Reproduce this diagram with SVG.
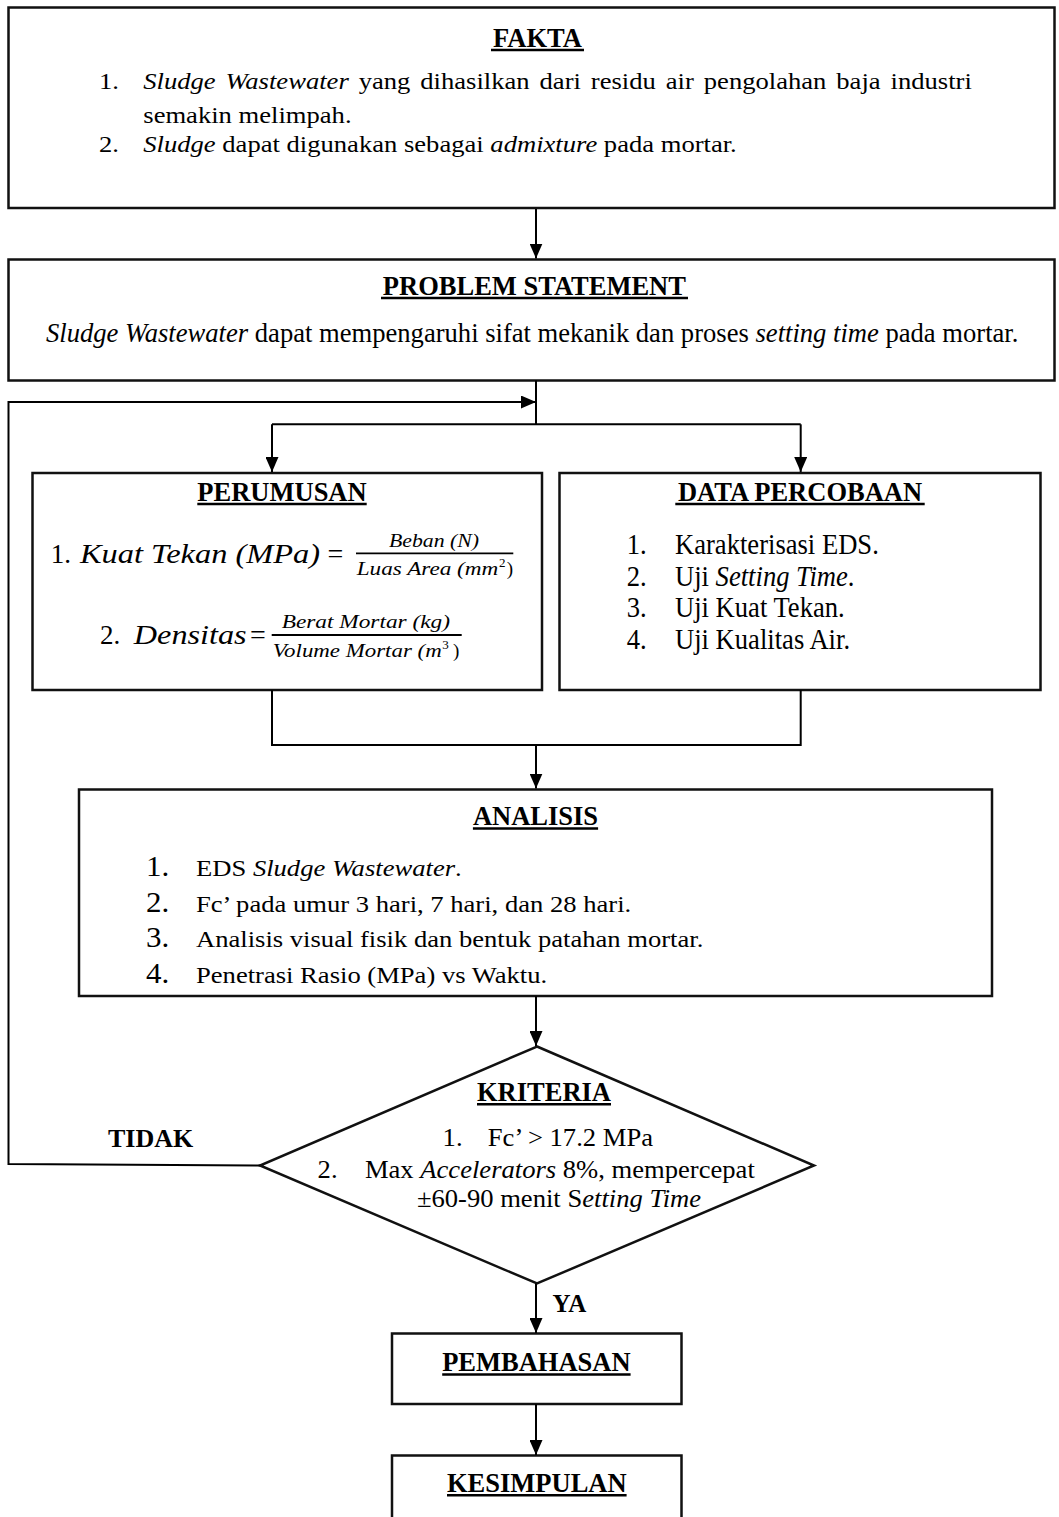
<svg xmlns="http://www.w3.org/2000/svg" width="1059" height="1517" viewBox="0 0 1059 1517">
<style>
.t{font-family:"Liberation Serif","Times New Roman",serif;fill:#000}
.h{font-weight:bold;font-size:26.5px;text-anchor:middle}
.r{font-size:26.6px}
.i{font-style:italic}
.m{font-style:italic;font-size:19px}
.box{fill:#fff;stroke:#111;stroke-width:2.5}
.ul{stroke:#000;stroke-width:2.5}
.bar{stroke:#000;stroke-width:1.8}
.c{fill:none;stroke:#000;stroke-width:2}
</style>
<defs>
<marker id="ah" markerUnits="userSpaceOnUse" markerWidth="16" markerHeight="13" refX="15" refY="6.5" orient="auto">
<path d="M0,0 L15,6.5 L0,13 z" fill="#000"/>
</marker>
</defs>
<rect width="1059" height="1517" fill="#fff"/>

<g id="fakta">
<rect class="box" x="8.5" y="7.5" width="1046" height="200.5"/>
<text class="t h" x="537.5" y="46.5">FAKTA</text>
<line class="ul" x1="491" y1="50" x2="584" y2="50"/>
<text class="t r" transform="matrix(1,0,0,0.9,0,89)" x="99" y="0">1.</text>
<text class="t r" transform="matrix(1,0,0,0.9,0,89)" x="143.3" y="0" word-spacing="3.3"><tspan class="i">Sludge Wastewater</tspan> yang dihasilkan dari residu air pengolahan baja industri</text>
<text class="t r" transform="matrix(1,0,0,0.9,0,122.5)" x="143.3" y="0">semakin melimpah.</text>
<text class="t r" transform="matrix(1,0,0,0.9,0,152)" x="99" y="0">2.</text>
<text class="t r" transform="matrix(1,0,0,0.9,0,152)" x="143.3" y="0"><tspan class="i">Sludge</tspan> dapat digunakan sebagai <tspan class="i">admixture</tspan> pada mortar.</text>
</g>

<g id="problem">
<rect class="box" x="8.5" y="259.5" width="1046" height="121"/>
<text class="t h" x="534.4" y="294.5">PROBLEM STATEMENT</text>
<line class="ul" x1="381" y1="298" x2="688" y2="298"/>
<text class="t r" transform="matrix(1,0,0,1.05,0,342)" x="46" y="0"><tspan class="i">Sludge Wastewater</tspan> dapat mempengaruhi sifat mekanik dan proses <tspan class="i">setting time</tspan> pada mortar.</text>
</g>

<g id="perumusan">
<rect class="box" x="32.5" y="473" width="509.5" height="217"/>
<text class="t h" x="282" y="500.5">PERUMUSAN</text>
<line class="ul" x1="197.3" y1="504" x2="366.7" y2="504"/>
<text class="t" font-size="27" x="50.7" y="562.5">1.</text>
<text class="t i" font-size="28" x="80" y="562.5" textLength="240" lengthAdjust="spacingAndGlyphs">Kuat Tekan (MPa)</text>
<text class="t" font-size="28" x="327.5" y="562.5">=</text>
<text class="t m" x="389" y="547.3" textLength="90" lengthAdjust="spacingAndGlyphs">Beban (N)</text>
<line class="bar" x1="356" y1="553.3" x2="513.3" y2="553.3"/>
<text class="t m" x="356.7" y="575" textLength="141.6" lengthAdjust="spacingAndGlyphs">Luas Area (mm</text>
<text class="t" font-size="13" x="499" y="566.5">2</text>
<text class="t" font-size="19" x="506.7" y="575">)</text>
<text class="t" font-size="27" x="100" y="644">2.</text>
<text class="t i" font-size="28" x="133.8" y="644" textLength="112.8" lengthAdjust="spacingAndGlyphs">Densitas</text>
<text class="t" font-size="28" x="250" y="644">=</text>
<text class="t m" x="281.7" y="628.3" textLength="168.3" lengthAdjust="spacingAndGlyphs">Berat Mortar (kg)</text>
<line class="bar" x1="271.7" y1="635" x2="461.7" y2="635"/>
<text class="t m" x="272.7" y="656.7" textLength="169" lengthAdjust="spacingAndGlyphs">Volume Mortar (m</text>
<text class="t" font-size="13" x="442.3" y="648.5">3</text>
<text class="t" font-size="19" x="453" y="656.7">)</text>
</g>

<g id="data">
<rect class="box" x="559.5" y="473" width="481" height="217"/>
<text class="t h" x="800" y="500.5">DATA PERCOBAAN</text>
<line class="ul" x1="675.3" y1="504" x2="924.7" y2="504"/>
<text class="t r" transform="matrix(1,0,0,1.08,0,554.3)" x="626.7" y="0">1.</text>
<text class="t r" transform="matrix(1,0,0,1.08,0,554.3)" x="675" y="0">Karakterisasi EDS.</text>
<text class="t r" transform="matrix(1,0,0,1.08,0,585.5)" x="626.7" y="0">2.</text>
<text class="t r" transform="matrix(1,0,0,1.08,0,585.5)" x="675" y="0">Uji <tspan class="i">Setting Time</tspan>.</text>
<text class="t r" transform="matrix(1,0,0,1.08,0,617)" x="626.7" y="0">3.</text>
<text class="t r" transform="matrix(1,0,0,1.08,0,617)" x="675" y="0">Uji Kuat Tekan.</text>
<text class="t r" transform="matrix(1,0,0,1.08,0,648.5)" x="626.7" y="0">4.</text>
<text class="t r" transform="matrix(1,0,0,1.08,0,648.5)" x="675" y="0">Uji Kualitas Air.</text>
</g>

<g id="analisis">
<rect class="box" x="79" y="789.5" width="913" height="206.5"/>
<text class="t h" x="535.5" y="825">ANALISIS</text>
<line class="ul" x1="472.9" y1="828.5" x2="598.1" y2="828.5"/>
<text class="t" font-size="31" transform="matrix(1,0,0,0.95,0,876)" x="146" y="0">1.</text>
<text class="t r" transform="matrix(1,0,0,0.9,0,876)" x="196" y="0">EDS <tspan class="i">Sludge Wastewater</tspan>.</text>
<text class="t" font-size="31" transform="matrix(1,0,0,0.95,0,911.7)" x="146" y="0">2.</text>
<text class="t r" transform="matrix(1,0,0,0.9,0,911.7)" x="196" y="0">Fc’ pada umur 3 hari, 7 hari, dan 28 hari.</text>
<text class="t" font-size="31" transform="matrix(1,0,0,0.95,0,947.3)" x="146" y="0">3.</text>
<text class="t r" transform="matrix(1,0,0,0.9,0,947.3)" x="196" y="0">Analisis visual fisik dan bentuk patahan mortar.</text>
<text class="t" font-size="31" transform="matrix(1,0,0,0.95,0,982.5)" x="146" y="0">4.</text>
<text class="t r" transform="matrix(1,0,0,0.9,0,982.5)" x="196" y="0">Penetrasi Rasio (MPa) vs Waktu.</text>
</g>

<g id="kriteria">
<polygon class="box" points="537,1046.5 814,1165.5 537,1283.5 260,1165.5"/>
<text class="t h" x="544" y="1100.7">KRITERIA</text>
<line class="ul" x1="477" y1="1104.3" x2="611" y2="1104.3"/>
<text class="t r" transform="matrix(1,0,0,0.95,0,1146)" x="442.6" y="0">1.</text>
<text class="t r" transform="matrix(1,0,0,0.95,0,1146)" x="487.8" y="0">Fc’ &gt; 17.2 MPa</text>
<text class="t r" transform="matrix(1,0,0,0.95,0,1178.3)" x="317.6" y="0">2.</text>
<text class="t r" transform="matrix(1,0,0,0.95,0,1178.3)" x="364.9" y="0">Max <tspan class="i">Accelerators</tspan> 8%, mempercepat</text>
<text class="t r" transform="matrix(1,0,0,0.95,0,1207.3)" x="416.9" y="0">±60-90 menit S<tspan class="i">etting Time</tspan></text>
</g>

<g id="label-tidak">
<text class="t" font-weight="bold" font-size="26" x="108" y="1146.7">TIDAK</text>
</g>
<g id="label-ya">
<text class="t" font-weight="bold" font-size="25" x="552.5" y="1312">YA</text>
</g>

<g id="pembahasan">
<rect class="box" x="392" y="1333.5" width="289.5" height="70.5"/>
<text class="t h" x="536.4" y="1371">PEMBAHASAN</text>
<line class="ul" x1="442.2" y1="1374.5" x2="630.6" y2="1374.5"/>
</g>

<g id="kesimpulan">
<rect class="box" x="392" y="1455.5" width="289.5" height="90"/>
<text class="t h" x="536.8" y="1491.7">KESIMPULAN</text>
<line class="ul" x1="447" y1="1495.3" x2="626.6" y2="1495.3"/>
</g>

<g id="connectors">
<line class="c" x1="536" y1="209" x2="536" y2="258.5" marker-end="url(#ah)"/>
<polyline class="c" points="536,380.5 536,424.3"/>
<polyline class="c" points="272,424.3 800.7,424.3"/>
<line class="c" x1="272" y1="424.3" x2="272" y2="472" marker-end="url(#ah)"/>
<line class="c" x1="800.7" y1="424.3" x2="800.7" y2="472" marker-end="url(#ah)"/>
<polyline class="c" points="260,1165.5 8.5,1164 8.5,402 536,402" marker-end="url(#ah)"/>
<polyline class="c" points="272,690 272,745 800.7,745 800.7,690"/>
<line class="c" x1="536" y1="745" x2="536" y2="788.5" marker-end="url(#ah)"/>
<line class="c" x1="536" y1="996" x2="536" y2="1046" marker-end="url(#ah)"/>
<line class="c" x1="536" y1="1283.5" x2="536" y2="1333" marker-end="url(#ah)"/>
<line class="c" x1="536" y1="1404" x2="536" y2="1455" marker-end="url(#ah)"/>
</g>
</svg>
